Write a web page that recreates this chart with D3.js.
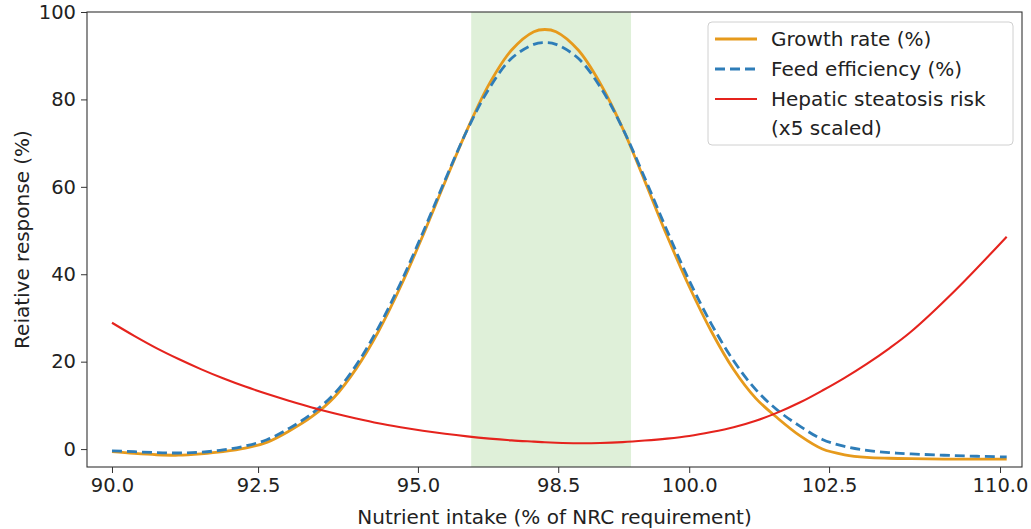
<!DOCTYPE html>
<html>
<head>
<meta charset="utf-8">
<script src="https://cdn.jsdelivr.net/npm/d3@7"></script>
<style>
  html, body { margin: 0; padding: 0; background: #fff; }
  svg { display: block; font-family: "DejaVu Sans", sans-serif; }
</style>
</head>
<body>
<svg id="chart" width="1031" height="529"></svg>
<script>
// ---- data ----
const intake = [90, 90.5, 91, 91.5, 92, 92.5, 93, 93.5, 94, 94.5, 95, 95.5, 96, 96.5, 97, 97.5, 98, 98.5, 99, 99.5, 99.75,
  100, 100.5, 101, 101.5, 102, 102.5, 103, 103.5, 104, 104.5, 105, 105.5, 106, 106.5, 107, 107.5, 108, 109, 110.15];
const growthRate = [-0.6, -1.0, -1.3, -1.4, -1.1, -0.6, 0.2, 1.6, 4.2, 7.4, 11.8, 18.4, 26.9, 37.2, 48.8, 61.1, 73.1, 83.6, 91.3, 95.5, 96.0,
  95.5, 91.3, 83.6, 73.4, 61.3, 48.8, 37.2, 26.9, 18.2, 11.6, 7.0, 3.0, 0.0, -1.3, -1.9, -2.1, -2.2, -2.3, -2.3];
const feedEfficiency = [-0.4, -0.6, -0.8, -0.9, -0.7, -0.2, 0.7, 2.2, 4.8, 8.1, 12.6, 19.2, 27.8, 38.0, 49.5, 61.5, 73.0, 82.6, 89.4, 92.6, 93.0,
  92.6, 89.4, 82.8, 73.4, 62.0, 50.0, 38.6, 28.6, 20.2, 13.6, 8.8, 5.2, 2.2, 0.6, -0.3, -0.8, -1.1, -1.5, -1.8];
const steatosisRisk = [28.9, 25.9, 23.1, 20.6, 18.3, 16.2, 14.3, 12.6, 11.0, 9.5, 8.2, 7.0, 5.9, 5.0, 4.2, 3.5, 2.9, 2.4, 2.0, 1.7, 1.55,
  1.45, 1.35, 1.4, 1.6, 1.95, 2.4, 3.0, 3.9, 5.0, 6.5, 8.4, 10.7, 13.4, 16.3, 19.5, 23.0, 26.9, 36.4, 48.6];
const optimalRange = [98.09, 101.69];
const xTickValues = [90, 93.29, 96.89, 100.05, 103.0, 106.15, 110];
const xTickLabels = ["90.0", "92.5", "95.0", "98.5", "100.0", "102.5", "110.0"];
const yTickValues = [0, 20, 40, 60, 80, 100];
const seriesNames = ["Growth rate (%)", "Feed efficiency (%)", "Hepatic steatosis risk"];
const seriesNameExtra = "(x5 scaled)";
const xLabel = "Nutrient intake (% of NRC requirement)";
const yLabel = "Reiative response (%)";

// ---- layout ----
const W = 1031, H = 529;
const margin = { left: 87, right: 9, top: 12, bottom: 62 };
const colors = { growth: "#e69a1c", feed: "#2e7db8", risk: "#e5231d", shade: "#dff0d9", text: "#222" };

const svg = d3.select("#chart");
const x = d3.scaleLinear().domain([89.437, 110.495]).range([margin.left, W - margin.right]);
const y = d3.scaleLinear().domain([-4.1, 100]).range([H - margin.bottom, margin.top]);

// shaded optimal range
svg.append("rect")
  .attr("x", x(optimalRange[0]))
  .attr("y", margin.top)
  .attr("width", x(optimalRange[1]) - x(optimalRange[0]))
  .attr("height", (H - margin.bottom) - margin.top)
  .attr("fill", colors.shade);

svg.append("clipPath").attr("id", "plotclip").append("rect")
  .attr("x", margin.left).attr("y", margin.top)
  .attr("width", W - margin.left - margin.right).attr("height", H - margin.top - margin.bottom);

const line = (vals) => d3.line()
  .x((d, i) => x(intake[i]))
  .y(d => y(d))
  .curve(d3.curveCatmullRom.alpha(0.5))(vals);

const g = svg.append("g").attr("clip-path", "url(#plotclip)");
g.append("path").attr("d", line(growthRate)).attr("fill", "none")
  .attr("stroke", colors.growth).attr("stroke-width", 2.8);
g.append("path").attr("d", line(feedEfficiency)).attr("fill", "none")
  .attr("stroke", colors.feed).attr("stroke-width", 2.8).attr("stroke-dasharray", "10,5");
g.append("path").attr("d", line(steatosisRisk)).attr("fill", "none")
  .attr("stroke", colors.risk).attr("stroke-width", 2.1);

// axes
const xAxis = d3.axisBottom(x).tickValues(xTickValues)
  .tickFormat((d, i) => xTickLabels[i]).tickSize(6).tickPadding(5);
const yAxis = d3.axisLeft(y).tickValues(yTickValues)
  .tickFormat(d3.format("d")).tickSize(6).tickPadding(5);

const gx = svg.append("g").attr("transform", `translate(0,${H - margin.bottom})`).call(xAxis);
const gy = svg.append("g").attr("transform", `translate(${margin.left},0)`).call(yAxis);
[gx, gy].forEach(a => {
  a.select(".domain").remove();
  a.selectAll(".tick line").attr("stroke", "#333").attr("stroke-width", 1);
  a.selectAll(".tick text").attr("fill", colors.text)
    .style("font-family", "DejaVu Sans").style("font-size", "19.5px");
});

// frame (spines)
svg.append("rect")
  .attr("x", margin.left).attr("y", margin.top)
  .attr("width", W - margin.left - margin.right).attr("height", H - margin.top - margin.bottom)
  .attr("fill", "none").attr("stroke", "#333").attr("stroke-width", 1.1);

// axis labels
svg.append("text").attr("x", (margin.left + W - margin.right) / 2).attr("y", 524)
  .attr("text-anchor", "middle").attr("fill", colors.text).style("font-size", "20px").text(xLabel);
svg.append("text")
  .attr("transform", `translate(29,${(margin.top + H - margin.bottom) / 2}) rotate(-90)`)
  .attr("text-anchor", "middle").attr("fill", colors.text).style("font-size", "20px").text(yLabel);

// legend
const lg = svg.append("g");
lg.append("rect").attr("x", 708).attr("y", 22).attr("width", 305).attr("height", 123)
  .attr("rx", 4).attr("fill", "#fff").attr("fill-opacity", 0.85)
  .attr("stroke", "#d0d0d0").attr("stroke-width", 1);
const legendItems = [
  { name: seriesNames[0], color: colors.growth, dash: null, w: 2.8 },
  { name: seriesNames[1], color: colors.feed, dash: "10,5", w: 2.8 },
  { name: seriesNames[2], color: colors.risk, dash: null, w: 2.1 }
];
legendItems.forEach((it, i) => {
  const cy = 39 + i * 30;
  lg.append("line").attr("x1", 715).attr("x2", 757).attr("y1", cy).attr("y2", cy)
    .attr("stroke", it.color).attr("stroke-width", it.w)
    .attr("stroke-dasharray", it.dash);
  lg.append("text").attr("x", 771).attr("y", cy).attr("dy", "0.35em")
    .attr("fill", colors.text).style("font-size", "20px").text(it.name);
});
lg.append("text").attr("x", 771).attr("y", 39 + 3 * 30 - 1).attr("dy", "0.35em")
  .attr("fill", colors.text).style("font-size", "20px").text(seriesNameExtra);
</script>
</body>
</html>
